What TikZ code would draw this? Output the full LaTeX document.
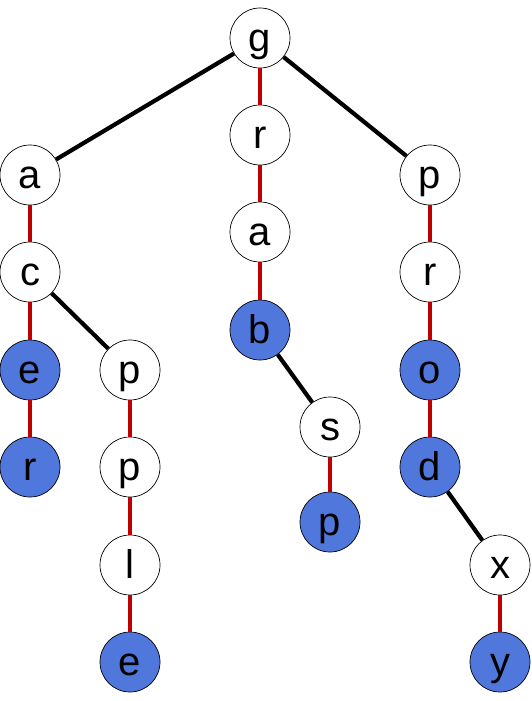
\documentclass[tikz,border=0pt]{standalone}
\usepackage{fontspec}
\setmainfont{Liberation Sans}
\definecolor{azulNodo}{HTML}{5077DB}
\definecolor{rojoRama}{HTML}{C00000}
\usetikzlibrary{positioning}

\begin{document}
\begin{tikzpicture}[x=1pt, y=-1pt,
    every node/.style={font=\fontsize{40}{42}\selectfont},
    nodo/.style={circle, draw=black, line width=0.7pt, fill=white,
      minimum size=60pt, inner sep=0pt, text height=36pt, text depth=8.4pt},
    final/.style={nodo, fill=azulNodo},
    ramaNegra/.style={black, line width=4.2pt},
    ramaRoja/.style={rojoRama, line width=4pt}]

  \useasboundingbox (0,0) rectangle (531,701);

  % ── Nodos blancos ─────────────────────────────────────────
  \foreach \n/\x/\y/\t in {
      g/260/38/g, a1/30/175/a, r1/260/135/r, p1/430/175/p,
      c/30/272/c, a2/260/232/a, r2/430/272/r,
      p2/130/370/p, s/330/427/s, p3/130/467/p,
      l/130/565/l, x/500/565/x}{
    \node[nodo] (\n) at (\x,\y) {\t};
  }

  % ── Nodos finales (azules) ────────────────────────────────
  \foreach \n/\x/\y/\t in {
      e1/30/370/e, b/260/330/b, o/430/370/o,
      r3/30/467/r, d/430/467/d, p4/330/522/p,
      e2/130/662/e, y/500/662/y}{
    \node[final] (\n) at (\x,\y) {\t};
  }

  % ── Ramas negras ──────────────────────────────────────────
  \foreach \u/\v in {g/a1, g/p1, c/p2, b/s, d/x}{
    \draw[ramaNegra] (\u) -- (\v);
  }

  % ── Ramas rojas ───────────────────────────────────────────
  \foreach \u/\v in {g/r1, r1/a2, a2/b, a1/c, c/e1, e1/r3,
      p2/p3, p3/l, l/e2, s/p4, p1/r2, r2/o, o/d, x/y}{
    \draw[ramaRoja] (\u) -- (\v);
  }

\end{tikzpicture}
\end{document}
